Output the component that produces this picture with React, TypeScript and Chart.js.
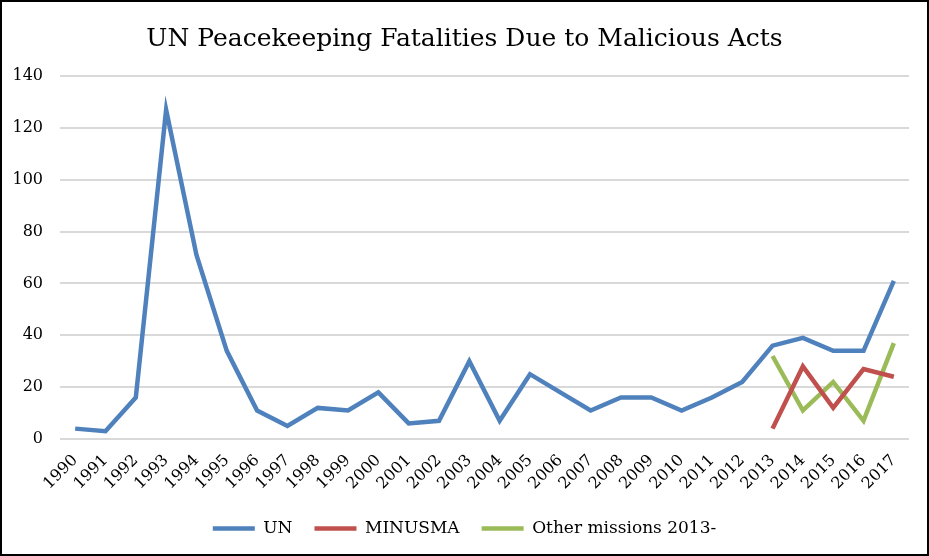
import React, { useEffect, useRef } from "react";
import { Chart, registerables } from "chart.js";

Chart.register(...registerables);

const years = ["1990","1991","1992","1993","1994","1995","1996","1997","1998","1999","2000","2001","2002","2003","2004","2005","2006","2007","2008","2009","2010","2011","2012","2013","2014","2015","2016","2017"];
const unValues = [4, 3, 16, 127, 71, 34, 11, 5, 12, 11, 18, 6, 7, 30, 7, 25, 18, 11, 16, 16, 11, 16, 22, 36, 39, 34, 34, 61];
const minusmaValues = [null, null, null, null, null, null, null, null, null, null, null, null, null, null, null, null, null, null, null, null, null, null, null, 4, 28, 12, 27, 24];
const otherValues = [null, null, null, null, null, null, null, null, null, null, null, null, null, null, null, null, null, null, null, null, null, null, null, 32, 11, 22, 7, 37];

const FONT = "'DejaVu Serif', 'Liberation Serif', serif";

export default function App() {
  const ref = useRef<HTMLCanvasElement | null>(null);
  useEffect(() => {
    document.body.style.margin = "0";
    const ctx = ref.current!;
    const chart = new Chart(ctx, {
      type: "line",
      data: {
        labels: years,
        datasets: [
          { label: "UN", data: unValues, borderColor: "#4F81BD", backgroundColor: "#4F81BD", borderWidth: 4.5, pointRadius: 0, tension: 0 },
          { label: "MINUSMA", data: minusmaValues, borderColor: "#C0504D", backgroundColor: "#C0504D", borderWidth: 4.5, pointRadius: 0, tension: 0 },
          { label: "Other missions 2013-", data: otherValues, borderColor: "#9BBB59", backgroundColor: "#9BBB59", borderWidth: 4.5, pointRadius: 0, tension: 0 },
        ],
      },
      options: {
        animation: false,
        responsive: false,
        devicePixelRatio: 1,
        layout: { padding: { left: 0, right: 0, top: 0, bottom: 7 } },
        plugins: {
          title: {
            display: true,
            text: "UN Peacekeeping Fatalities Due to Malicious Acts",
            color: "#000",
            font: { family: FONT, size: 25, weight: "normal" },
            padding: { top: 22, bottom: 22 },
          },
          legend: {
            position: "bottom",
            labels: {
              color: "#000",
              font: { family: FONT, size: 17 },
              usePointStyle: true,
              pointStyle: "line",
              pointStyleWidth: 42,
              boxHeight: 17,
              padding: 22,
            },
          },
          tooltip: { enabled: false },
        },
        scales: {
          x: {
            offset: true,
            grid: { display: false },
            border: { display: false },
            ticks: {
              color: "#000",
              font: { family: FONT, size: 16 },
              minRotation: 45,
              maxRotation: 45,
              autoSkip: false,
              padding: 4,
            },
            afterFit: (s: any) => { s.height = 59; },
          },
          y: {
            min: 0,
            max: 140,
            border: { display: false },
            grid: { color: "#D9D9D9", lineWidth: 2, drawTicks: false },
            ticks: {
              stepSize: 20,
              color: "#000",
              font: { family: FONT, size: 16 },
              padding: 17,
            },
            afterFit: (s: any) => { s.width = 58; },
          },
          y2: {
            position: "right",
            min: 0,
            max: 140,
            border: { display: false },
            grid: { display: false },
            ticks: { display: false },
            afterFit: (s: any) => { s.width = 18; },
          },
        },
      },
    });
    return () => chart.destroy();
  }, []);
  return (
    <div style={{ width: 929, height: 556, boxSizing: "border-box", border: "2px solid #000", background: "#fff" }}>
      <canvas ref={ref} width={925} height={552} style={{ display: "block" }} />
    </div>
  );
}
